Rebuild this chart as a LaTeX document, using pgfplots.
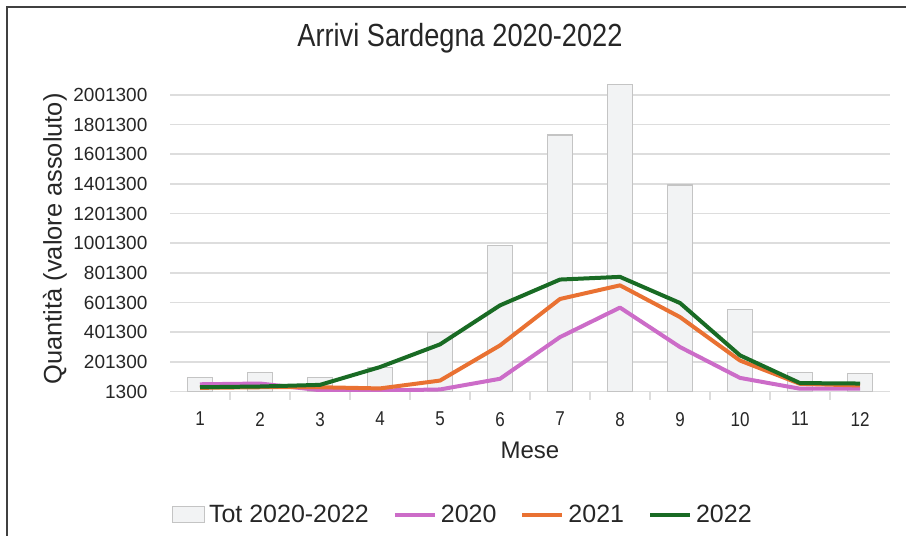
\documentclass[border=0pt]{standalone}
\usepackage{fontspec}
\setmainfont{Liberation Sans}
\newfontfamily\narrow[FakeStretch=0.85]{Liberation Sans}
\usepackage{pgfplots}
\pgfplotsset{compat=1.18}
\definecolor{c20}{HTML}{CC6CC8}
\definecolor{c21}{HTML}{E97132}
\definecolor{c22}{HTML}{196B24}
\definecolor{barfill}{HTML}{F2F3F4}
\definecolor{bardraw}{HTML}{C4C4C4}
\definecolor{gridc}{HTML}{DDDDDD}
\definecolor{txt}{HTML}{262626}
\pgfplotsset{
  lineleg/.style={legend image code/.code={\draw[##1] (0pt,0pt) -- (20pt,0pt);}},
  barleg/.style={legend image code/.code={\draw[##1, fill=barfill, draw=bardraw] (0pt,-4pt) rectangle (16pt,4pt);}},
}
\begin{document}
\begin{tikzpicture}[x=1pt,y=1pt]
\useasboundingbox (0,0) rectangle (453,268);
\draw[line width=1.1pt, black!75] (3.5,0) -- (3.5,264.5) -- (453,264.5);
\node[font=\narrow\fontsize{16}{18}\selectfont, text=txt] at (230,249) {Arrivi Sardegna 2020-2022};
\begin{axis}[
  at={(85pt,72.25pt)}, anchor=south west,
  scale only axis, width=360pt, height=155.75pt,
  xmin=0.5, xmax=12.5, ymin=1300, ymax=2101300,
  xtick={1,...,12},
  xticklabels={1,2,3,4,5,6,7,8,9,10,11,12},
  minor xtick={1.5,2.5,...,11.5},
  major x tick style={draw=none},
  minor x tick style={draw=gridc, line width=0.6pt},
  minor tick length=4pt,
  tick align=outside,
  scaled y ticks=false,
  ytick={1300,201300,401300,601300,801300,1001300,1201300,1401300,1601300,1801300,2001300},
  yticklabels={1300,201300,401300,601300,801300,1001300,1201300,1401300,1601300,1801300,2001300},
  major y tick style={draw=none},
  ymajorgrids, grid style={gridc, line width=0.7pt},
  axis x line*=bottom, axis y line*=left,
  x axis line style={draw=gridc, line width=0.8pt, -},
  y axis line style={draw=none},
  yticklabel style={font=\fontsize{9.5}{10}\selectfont, text=txt, xshift=-3.5pt},
  xticklabel style={font=\narrow\fontsize{10}{12}\selectfont, text=txt, yshift=-2.5pt},
  xlabel={Mese}, ylabel={Quantità (valore assoluto)},
  xlabel style={at={(axis description cs:0.5,-0.188)}, anchor=center, font=\fontsize{12}{14}\selectfont, text=txt},
  ylabel style={at={(axis description cs:-0.16,0.49)}, anchor=center, font=\fontsize{12.7}{15}\selectfont, text=txt},
  legend style={at={(axis description cs:0.408,-0.396)}, anchor=center, draw=none, fill=none,
    font=\fontsize{12.5}{14}\selectfont, text=txt,
    /tikz/every even column/.append style={column sep=10pt}},
  legend columns=4,
  legend cell align=left,
]
\addplot[ybar, bar width=12.5pt, bar shift=0pt, fill=barfill, draw=bardraw, line width=0.6pt, barleg]
coordinates {(1,98000) (2,131000) (3,98000) (4,165000) (5,401000) (6,987000) (7,1731000) (8,2069000) (9,1393000) (10,553000) (11,131000) (12,121000)};
\addlegendentry{Tot 2020-2022}
\addplot[c20, line width=2pt, line join=round, lineleg]
coordinates {(1,50000) (2,55000) (3,10000) (4,8000) (5,15000) (6,87000) (7,368000) (8,567000) (9,301000) (10,93000) (11,20000) (12,20000)};
\addlegendentry{2020}
\addplot[c21, line width=2pt, line join=round, lineleg]
coordinates {(1,26000) (2,30000) (3,30000) (4,22000) (5,75000) (6,312000) (7,625000) (8,717000) (9,503000) (10,210000) (11,53000) (12,42000)};
\addlegendentry{2021}
\addplot[c22, line width=2pt, line join=round, lineleg]
coordinates {(1,30000) (2,35000) (3,46000) (4,166000) (5,319000) (6,582000) (7,756000) (8,774000) (9,598000) (10,245000) (11,58000) (12,55000)};
\addlegendentry{2022}
\end{axis}
\end{tikzpicture}
\end{document}
